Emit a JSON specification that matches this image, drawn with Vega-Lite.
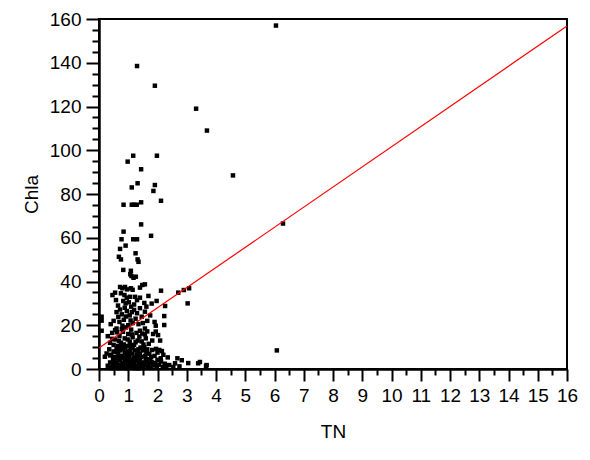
{
  "$schema": "https://vega.github.io/schema/vega-lite/v6.json",
  "autosize": "none",
  "width": 468,
  "height": 350,
  "padding": {"left": 99, "top": 19, "right": 23, "bottom": 91},
  "background": "white",
  "config": {
    "view": {"stroke": "black", "strokeWidth": 2},
    "font": "Liberation Sans",
    "axis": {
      "domainColor": "black", "domainWidth": 2, "tickColor": "black", "tickWidth": 2,
      "labelColor": "black", "labelFont": "Liberation Sans", "labelFontSize": 19,
      "titleColor": "black", "titleFont": "Liberation Sans", "titleFontSize": 19, "titleFontWeight": "normal",
      "grid": false, "labelOverlap": false, "labelFlush": false
    }
  },
  "resolve": {"axis": {"x": "independent", "y": "independent"}},
  "layer": [
    {
      "data": {"values": [
        {"TN":6.05,"Chla":157},{"TN":1.30,"Chla":138.5},{"TN":1.91,"Chla":129.5},{"TN":3.32,"Chla":119},{"TN":3.69,"Chla":109},{"TN":4.58,"Chla":88.5},{"TN":6.29,"Chla":66.5},{"TN":6.08,"Chla":8.5},
        {"TN":1.17,"Chla":97.5},{"TN":1.98,"Chla":97.5},{"TN":0.98,"Chla":94.8},{"TN":1.44,"Chla":91.3},{"TN":1.32,"Chla":84.9},{"TN":1.91,"Chla":84.1},{"TN":1.12,"Chla":83},{"TN":1.86,"Chla":81.4},{"TN":2.12,"Chla":76.9},{"TN":0.84,"Chla":75.1},{"TN":1.12,"Chla":75.1},{"TN":1.2,"Chla":75.1},{"TN":1.29,"Chla":75.1},{"TN":1.44,"Chla":76.2},{"TN":1.44,"Chla":66.1},{"TN":0.84,"Chla":62.8},{"TN":0.77,"Chla":59.3},{"TN":1.17,"Chla":59.3},{"TN":1.3,"Chla":59.3},{"TN":1.78,"Chla":60.9},{"TN":0.91,"Chla":56.4},{"TN":0.72,"Chla":54.9},{"TN":0.68,"Chla":51.3},{"TN":1.25,"Chla":52.9},{"TN":0.75,"Chla":50.1},{"TN":1.32,"Chla":50.1},{"TN":1.35,"Chla":49},{"TN":0.83,"Chla":45.3},{"TN":1.09,"Chla":44.9},{"TN":1.07,"Chla":43.3},{"TN":1.11,"Chla":42.5},{"TN":1.18,"Chla":41.7},{"TN":1.26,"Chla":42.2},
        {"TN":0.72,"Chla":37.5},{"TN":0.8,"Chla":36.9},{"TN":0.89,"Chla":37.5},{"TN":0.96,"Chla":36.4},{"TN":1.09,"Chla":36.9},{"TN":1.15,"Chla":36.2},{"TN":1.4,"Chla":37.2},{"TN":1.48,"Chla":38.4},{"TN":1.57,"Chla":38.7},{"TN":2.12,"Chla":35.8},{"TN":2.71,"Chla":34.9},{"TN":2.9,"Chla":36.1},{"TN":3.08,"Chla":36.9},
        {"TN":0.46,"Chla":33.8},{"TN":0.55,"Chla":34.9},{"TN":0.75,"Chla":34.6},{"TN":0.87,"Chla":33.8},{"TN":0.95,"Chla":32.6},{"TN":1.06,"Chla":33},{"TN":1.23,"Chla":33},{"TN":1.4,"Chla":32.6},{"TN":1.69,"Chla":33.4},{"TN":1.97,"Chla":31.1},{"TN":0.83,"Chla":31.1},{"TN":0.91,"Chla":30},{"TN":3.03,"Chla":30},{"TN":2.26,"Chla":28.8},{"TN":1.2,"Chla":29.5},{"TN":1.55,"Chla":30.2},{"TN":0.65,"Chla":29},{"TN":1.1,"Chla":28.5},
        {"TN":2.23,"Chla":24.2},{"TN":2.23,"Chla":20.1},{"TN":0.09,"Chla":23.9},{"TN":0.09,"Chla":22.1},{"TN":1.46,"Chla":23.9},{"TN":1.57,"Chla":26.2},{"TN":1.8,"Chla":29.9},{"TN":0.6,"Chla":26},{"TN":0.78,"Chla":25},{"TN":0.95,"Chla":26.5},{"TN":1.05,"Chla":24.5},{"TN":1.3,"Chla":25.5},{"TN":0.5,"Chla":22},{"TN":0.7,"Chla":21.5},{"TN":0.85,"Chla":22.5},{"TN":1.15,"Chla":21},{"TN":1.35,"Chla":20.5},{"TN":1.65,"Chla":22},{"TN":1.9,"Chla":21.5},{"TN":0.4,"Chla":20.5},{"TN":1.0,"Chla":20},{"TN":1.25,"Chla":23},{"TN":1.94,"Chla":19.8},{"TN":1.94,"Chla":17.1},
        {"TN":0.88,"Chla":28},{"TN":1.02,"Chla":30.5},{"TN":1.3,"Chla":31.5},{"TN":0.72,"Chla":27.2},{"TN":1.12,"Chla":26},{"TN":1.4,"Chla":27.8},{"TN":0.58,"Chla":31.5},{"TN":1.62,"Chla":28.5},{"TN":0.92,"Chla":24},{"TN":1.2,"Chla":27},{"TN":0.66,"Chla":23.8},{"TN":1.5,"Chla":21},{"TN":0.8,"Chla":19.8},{"TN":1.08,"Chla":22.2},{"TN":1.75,"Chla":24.5},
        {"TN":0.09,"Chla":17.5},{"TN":1.57,"Chla":18.5},{"TN":1.57,"Chla":15.8},{"TN":1.46,"Chla":12.6},{"TN":2.09,"Chla":13},{"TN":1.82,"Chla":13},{"TN":0.3,"Chla":15},{"TN":0.45,"Chla":16.5},{"TN":0.55,"Chla":13.5},{"TN":0.6,"Chla":18.5},{"TN":0.7,"Chla":15},{"TN":0.75,"Chla":12},{"TN":0.82,"Chla":17},{"TN":0.88,"Chla":14},{"TN":0.92,"Chla":19},{"TN":1.0,"Chla":16},{"TN":1.05,"Chla":12.5},{"TN":1.1,"Chla":18},{"TN":1.15,"Chla":14.5},{"TN":1.2,"Chla":11},{"TN":1.28,"Chla":16.5},{"TN":1.32,"Chla":13},{"TN":1.4,"Chla":17.5},{"TN":0.5,"Chla":11},{"TN":0.65,"Chla":10.5},{"TN":0.95,"Chla":10.5},{"TN":1.7,"Chla":11.5},{"TN":1.85,"Chla":16},{"TN":0.38,"Chla":12},{"TN":1.6,"Chla":14},
        {"TN":0.62,"Chla":16.8},{"TN":0.78,"Chla":18.2},{"TN":0.98,"Chla":13.5},{"TN":1.12,"Chla":15.8},{"TN":1.25,"Chla":12.2},{"TN":1.38,"Chla":14.8},{"TN":1.52,"Chla":11.2},{"TN":0.68,"Chla":12.8},{"TN":0.85,"Chla":11.2},{"TN":1.08,"Chla":10.8},{"TN":1.48,"Chla":16.2},{"TN":0.55,"Chla":17.8},{"TN":0.45,"Chla":13.8},{"TN":1.65,"Chla":17.2},{"TN":2.02,"Chla":15.5},
        {"TN":2.06,"Chla":8.7},{"TN":1.82,"Chla":8.7},{"TN":0.26,"Chla":7.1},{"TN":0.2,"Chla":5.6},{"TN":2.11,"Chla":4.9},{"TN":2.35,"Chla":5.3},{"TN":2.68,"Chla":4.9},{"TN":0.35,"Chla":9},{"TN":0.42,"Chla":6.5},{"TN":0.5,"Chla":8},{"TN":0.55,"Chla":5.5},{"TN":0.6,"Chla":9.5},{"TN":0.65,"Chla":7},{"TN":0.7,"Chla":5},{"TN":0.72,"Chla":8.5},{"TN":0.78,"Chla":6},{"TN":0.82,"Chla":9},{"TN":0.88,"Chla":7.5},{"TN":0.92,"Chla":5.5},{"TN":0.98,"Chla":8},{"TN":1.02,"Chla":6},{"TN":1.08,"Chla":9.5},{"TN":1.12,"Chla":7},{"TN":1.18,"Chla":5},{"TN":1.22,"Chla":8.5},{"TN":1.28,"Chla":6.5},{"TN":1.35,"Chla":9},{"TN":1.4,"Chla":7},{"TN":1.45,"Chla":5.5},{"TN":1.5,"Chla":8.5},{"TN":1.58,"Chla":6},{"TN":1.65,"Chla":9},{"TN":1.72,"Chla":7},{"TN":1.9,"Chla":6},{"TN":2.0,"Chla":7.5},{"TN":2.2,"Chla":6.5},{"TN":1.3,"Chla":4.8},{"TN":0.48,"Chla":4.6},
        {"TN":0.58,"Chla":7.8},{"TN":0.75,"Chla":10},{"TN":0.9,"Chla":9.8},{"TN":1.05,"Chla":8},{"TN":1.15,"Chla":10},{"TN":1.32,"Chla":7.6},{"TN":1.42,"Chla":9.8},{"TN":1.55,"Chla":10},{"TN":0.38,"Chla":6.2},{"TN":0.68,"Chla":6},{"TN":0.85,"Chla":5.2},{"TN":1.25,"Chla":5.2},{"TN":1.62,"Chla":7.5},{"TN":1.78,"Chla":5.5},{"TN":1.95,"Chla":9.2},{"TN":2.15,"Chla":8.2},{"TN":0.95,"Chla":6.8},{"TN":1.38,"Chla":5.8},
        {"TN":0.3,"Chla":1.5},{"TN":0.38,"Chla":3},{"TN":0.42,"Chla":0.8},{"TN":0.47,"Chla":2.2},{"TN":0.52,"Chla":4},{"TN":0.55,"Chla":1},{"TN":0.6,"Chla":3},{"TN":0.63,"Chla":0.6},{"TN":0.68,"Chla":2},{"TN":0.72,"Chla":4},{"TN":0.75,"Chla":1.2},{"TN":0.8,"Chla":2.8},{"TN":0.84,"Chla":0.5},{"TN":0.88,"Chla":3.5},{"TN":0.9,"Chla":1.5},{"TN":0.95,"Chla":4.2},{"TN":0.98,"Chla":2.4},{"TN":1.02,"Chla":0.7},{"TN":1.05,"Chla":3.2},{"TN":1.1,"Chla":1.8},{"TN":1.14,"Chla":4.3},{"TN":1.17,"Chla":0.9},{"TN":1.2,"Chla":2.8},{"TN":1.25,"Chla":1.5},{"TN":1.28,"Chla":3.8},{"TN":1.32,"Chla":0.6},{"TN":1.36,"Chla":2.5},{"TN":1.4,"Chla":4},{"TN":1.44,"Chla":1.2},{"TN":1.48,"Chla":3},{"TN":1.52,"Chla":0.8},{"TN":1.56,"Chla":2.2},{"TN":1.62,"Chla":3.6},{"TN":1.66,"Chla":1},{"TN":1.7,"Chla":2.5},{"TN":1.76,"Chla":0.6},{"TN":1.8,"Chla":3.2},{"TN":1.85,"Chla":1.6},{"TN":1.92,"Chla":2.8},{"TN":1.98,"Chla":0.9},{"TN":2.05,"Chla":2},{"TN":2.12,"Chla":3.4},{"TN":2.18,"Chla":1},{"TN":2.25,"Chla":2.4},{"TN":2.3,"Chla":0.6},{"TN":2.4,"Chla":1.8},{"TN":2.54,"Chla":0.9},{"TN":2.83,"Chla":4},{"TN":3.05,"Chla":2.7},{"TN":3.45,"Chla":3.2},{"TN":3.68,"Chla":1.8},{"TN":2.6,"Chla":2.6},{"TN":2.75,"Chla":1.2},{"TN":3.39,"Chla":2.6},{"TN":3.66,"Chla":1.4},{"TN":0.65,"Chla":4.8},{"TN":1.0,"Chla":4.8},{"TN":1.6,"Chla":4.6},{"TN":0.45,"Chla":0.4},{"TN":0.58,"Chla":2.5},{"TN":0.85,"Chla":1.8},{"TN":1.08,"Chla":2.5},{"TN":1.22,"Chla":0.4},{"TN":1.5,"Chla":1.8},{"TN":1.75,"Chla":4.4},{"TN":2.0,"Chla":4.2},{"TN":0.7,"Chla":0.4},{"TN":0.95,"Chla":0.3},{"TN":1.35,"Chla":0.3}
      ]},
      "mark": {"type": "square", "size": 20, "color": "black", "filled": true, "opacity": 1},
      "encoding": {
        "x": {
          "field": "TN", "type": "quantitative", "title": "TN",
          "scale": {"domain": [0, 16], "nice": false},
          "axis": {
            "orient": "bottom",
            "values": [0,1,2,3,4,5,6,7,8,9,10,11,12,13,14,15,16],
            "format": "d",
            "tickSize": 12,
            "labelPadding": 5,
            "titleX": 234, "titleY": 68, "titleBaseline": "alphabetic", "titleAlign": "center"
          }
        },
        "y": {
          "field": "Chla", "type": "quantitative", "title": "Chla",
          "scale": {"domain": [0, 160], "nice": false},
          "axis": {
            "orient": "left",
            "values": [0,20,40,60,80,100,120,140,160],
            "format": "d",
            "tickSize": 13,
            "labelPadding": 5,
            "titleX": -58, "titleY": 175, "titleAngle": -90, "titleAlign": "center", "titleBaseline": "bottom"
          }
        }
      }
    },
    {
      "data": {"values": [{"TN": 0, "Chla": 9.6}, {"TN": 16, "Chla": 156.8}]},
      "mark": {"type": "line", "color": "#ff0000", "strokeWidth": 1.2},
      "encoding": {
        "x": {
          "field": "TN", "type": "quantitative",
          "axis": {
            "orient": "bottom", "title": null, "labels": false,
            "values": [0.5,1.5,2.5,3.5,4.5,5.5,6.5,7.5,8.5,9.5,10.5,11.5,12.5,13.5,14.5,15.5],
            "tickSize": 6
          }
        },
        "y": {
          "field": "Chla", "type": "quantitative",
          "axis": {
            "orient": "left", "title": null, "labels": false,
            "values": [5,10,15,25,30,35,45,50,55,65,70,75,85,90,95,105,110,115,125,130,135,145,150,155],
            "tickSize": 7
          }
        }
      }
    }
  ]
}
